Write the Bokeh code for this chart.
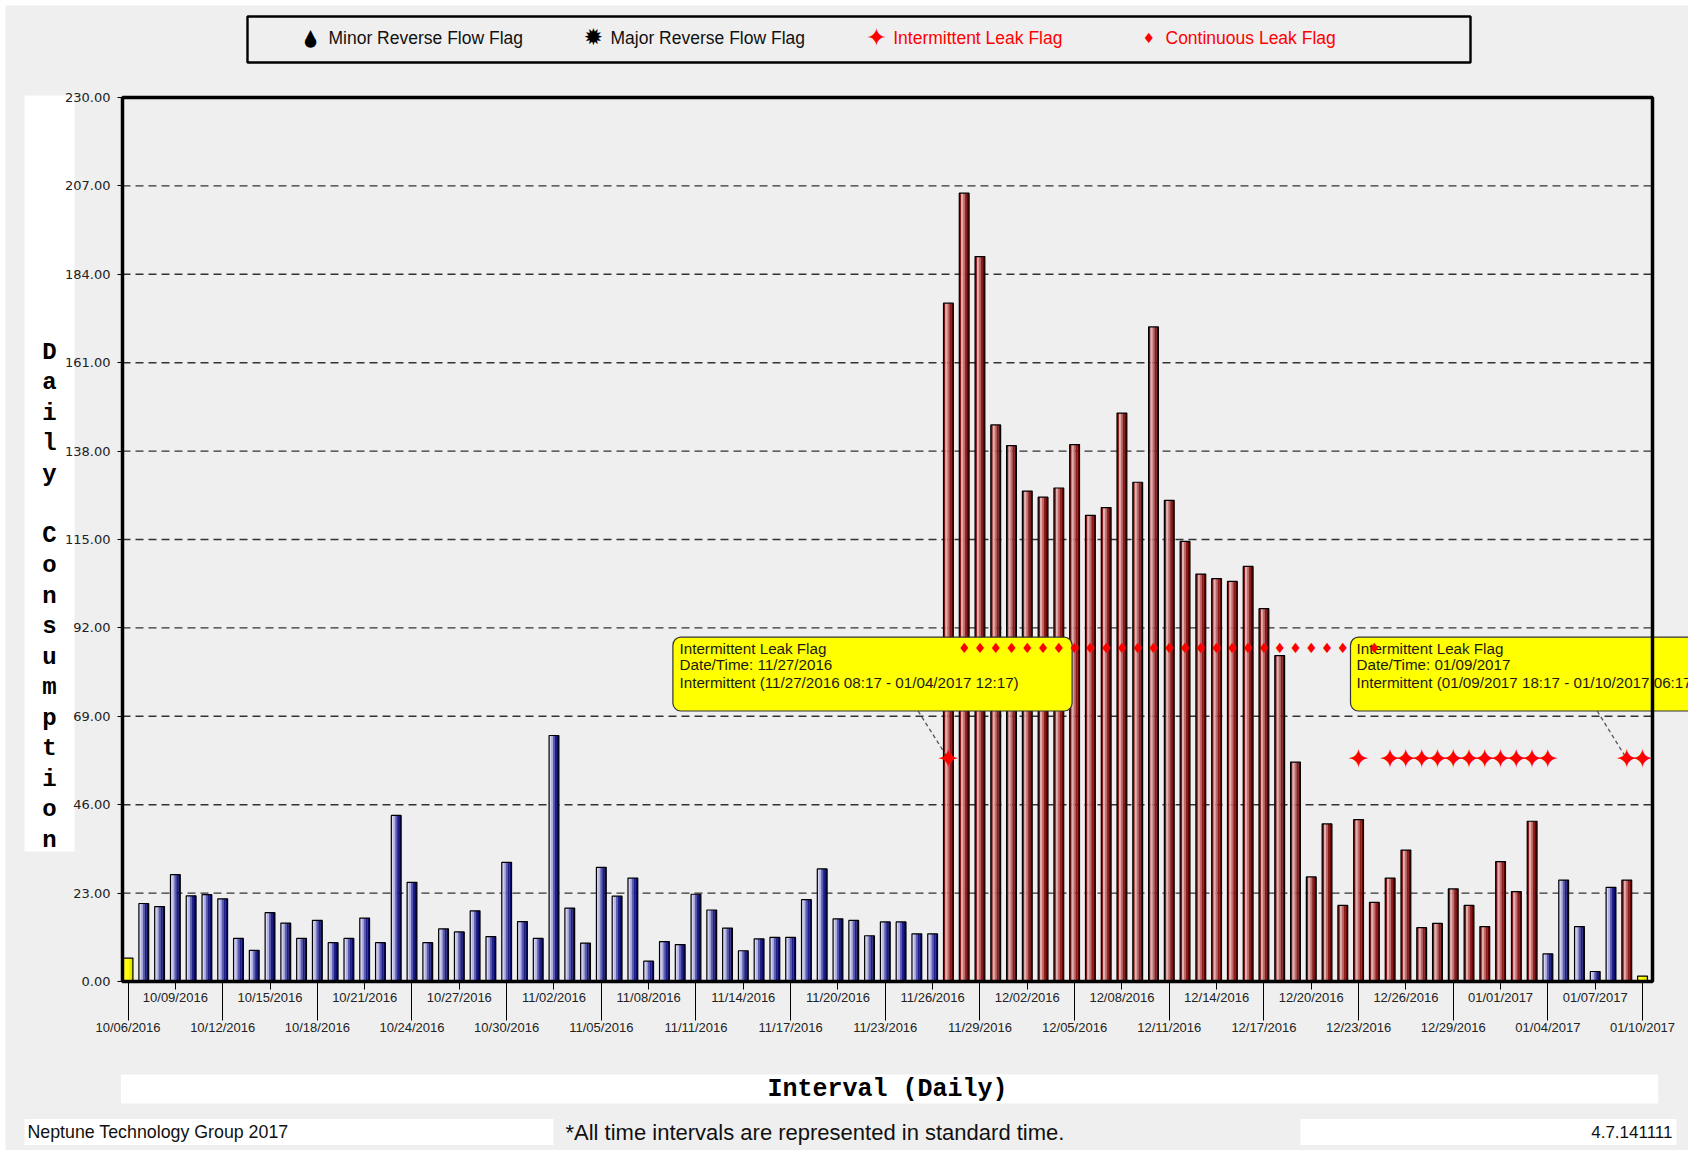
from bokeh.plotting import figure
from bokeh.models import ColumnDataSource, Range1d, FixedTicker, NumeralTickFormatter
from bokeh.core.properties import value
from bokeh.embed import file_html
from bokeh.resources import INLINE

# ---------------- data ----------------
tick_labels = ["10/06/2016", "10/09/2016", "10/12/2016", "10/15/2016", "10/18/2016", "10/21/2016",
               "10/24/2016", "10/27/2016", "10/30/2016", "11/02/2016", "11/05/2016", "11/08/2016",
               "11/11/2016", "11/14/2016", "11/17/2016", "11/20/2016", "11/23/2016", "11/26/2016",
               "11/29/2016", "12/02/2016", "12/05/2016", "12/08/2016", "12/11/2016", "12/14/2016",
               "12/17/2016", "12/20/2016", "12/23/2016", "12/26/2016", "12/29/2016", "01/01/2017",
               "01/04/2017", "01/07/2017", "01/10/2017"]

# daily consumption, 10/06/2016 .. 01/10/2017 (one value per day)
values = [6.1, 20.3, 19.5, 27.8, 22.3, 22.6, 21.5, 11.2, 8.1, 17.9,
          15.2, 11.2, 15.9, 10.1, 11.2, 16.5, 10.1, 43.2, 25.8, 10.1,
          13.7, 12.9, 18.4, 11.7, 31.0, 15.6, 11.2, 64.0, 19.1, 10.0,
          29.7, 22.2, 26.9, 5.3, 10.4, 9.6, 22.7, 18.6, 13.9, 8.0,
          11.1, 11.5, 11.5, 21.3, 29.3, 16.3, 15.9, 11.9, 15.5, 15.5,
          12.4, 12.4, 176.5, 205.1, 188.6, 144.8, 139.4, 127.6, 126.0, 128.4,
          139.7, 121.3, 123.3, 147.9, 129.9, 170.3, 125.2, 114.5, 106.0, 104.8,
          104.1, 108.0, 97.0, 84.8, 57.1, 27.2, 41.0, 19.8, 42.1, 20.6,
          26.9, 34.2, 14.0, 15.1, 24.1, 19.8, 14.3, 31.2, 23.4, 41.7,
          7.2, 26.4, 14.3, 2.6, 24.5, 26.4, 1.4]

# bar category per day: Y = partial day, B = normal, R = leak
status = (["Y"] + ["B"] * 51 + ["R"] * 38 + ["B"] * 5 + ["R"] + ["Y"])

intermittent_days = [52, 78, 80, 81, 82, 83, 84, 85, 86, 87, 88, 89, 90, 95, 96]
intermittent_level = 57.9
continuous_days = [53, 54, 55, 56, 57, 58, 59, 60, 61, 62, 63, 64, 65, 66, 67, 68, 69,
                   70, 71, 72, 73, 74, 75, 76, 77, 79]
continuous_level = 86.7

y_ticks = [0, 23, 46, 69, 92, 115, 138, 161, 184, 207, 230]

callout1 = ["Intermittent Leak Flag", "Date/Time: 11/27/2016",
            "Intermittent (11/27/2016 08:17 - 01/04/2017 12:17)"]
callout2 = ["Intermittent Leak Flag", "Date/Time: 01/09/2017",
            "Intermittent (01/09/2017 18:17 - 01/10/2017 06:17)"]

legend_labels = ["Minor Reverse Flow Flag", "Major Reverse Flow Flag",
                 "Intermittent Leak Flag", "Continuous Leak Flag"]

# ---------------- layout geometry (page pixels) ----------------
ORG = 5
W_FIG, H_FIG = 1683, 1145
PL, PR, PT, PB = 122, 1652, 97, 981      # plot area on the page
X0, X1 = -0.35, 96.63
Y0, Y1 = 0, 230
SX = (X1 - X0) / (PR - PL)
SY = (Y1 - Y0) / (PB - PT)


def dx(px):
    return X0 + (px - PL) * SX


def dy(py):
    return Y0 + (PB - py) * SY


BG = "#EFEFEF"
p = figure(width=W_FIG, height=H_FIG, output_backend="svg", toolbar_location=None,
           x_range=Range1d(dx(ORG), dx(ORG + W_FIG)),
           y_range=Range1d(dy(ORG + H_FIG), dy(ORG)),
           min_border=0, margin=(ORG, 0, 0, ORG),
           background_fill_color=BG, border_fill_color=BG)
p.outline_line_color = None
p.grid.visible = False


def txt(t, px, py, size, font="Liberation Sans", color="#111111", align="left",
        baseline="middle", style="normal", lh=1.2, level="glyph"):
    p.text(x=[dx(px)], y=[dy(py)], text=[t], text_font=value(font), text_font_size=size,
           text_color=color, text_align=align, text_baseline=baseline,
           text_font_style=style, text_line_height=lh, level=level)


def box(l, r, t, b, fill, line=None, lw=1.0, radius=0):
    kw = dict(left=[dx(l)], right=[dx(r)], top=[dy(t)], bottom=[dy(b)],
              fill_color=fill, line_color=line, line_width=lw)
    if radius:
        try:
            return p.quad(border_radius=radius, **kw)
        except Exception:
            pass
    return p.quad(**kw)


# ---------------- outer decorations ----------------
box(24, 74, 95, 851, "white")                       # y-title background
box(120.4, 1657.6, 1074, 1103, "white")             # x-title background
box(24, 553, 1118.5, 1144.5, "white")               # footer boxes
box(1300, 1676, 1118.5, 1144.5, "white")
box(247, 1470, 16, 62, None, line="black", lw=2.4)  # legend frame

# grid lines
p.segment(x0=[X0] * len(y_ticks), x1=[X1] * len(y_ticks), y0=y_ticks, y1=y_ticks,
          line_color="#333333", line_width=1.4, line_dash="8 5")

# ---------------- bars with shaded strips ----------------
palettes = {
    "B": ["#D8D8F4", "#B4B4E4", "#5C5CB2", "#1E1E88", "#0A0A68"],
    "R": ["#861818", "#E2AEAE", "#BE6A6A", "#8A1C1C", "#6A0000"],
    "Y": ["#FFFF30", "#FFFF10", "#FFFF00", "#F0F000", "#E0E000"],
}
BW = 0.62
NS = 5
days = list(range(len(values)))
for k in range(NS):
    off = -BW / 2 + BW / NS * (k + 0.5)
    src = ColumnDataSource(dict(x=[d + off for d in days], top=values,
                                c=[palettes[s][k] for s in status]))
    p.vbar(x="x", top="top", bottom=0, width=BW / NS * 1.08, fill_color="c",
           line_color=None, source=src)
p.vbar(x=days, top=values, bottom=0, width=BW, fill_color=None,
       line_color="black", line_width=1.2)

# leader lines and intermittent flags
p.line(x=[dx(917.6), intermittent_days[0]], y=[dy(710.5), intermittent_level],
       line_color="#555555", line_width=1.3, line_dash="4 3")
p.line(x=[dx(1596.7), intermittent_days[-2]], y=[dy(710.5), intermittent_level],
       line_color="#555555", line_width=1.3, line_dash="4 3")
p.text(x=intermittent_days, y=[intermittent_level] * len(intermittent_days),
       text=["\u2726"] * len(intermittent_days), text_font=value("DejaVu Sans"),
       text_font_size="27px", text_color="#FF0000", text_align="center",
       text_baseline="middle")

# ---------------- callouts ----------------
box(672.4, 1071.6, 636.7, 710.5, "#FFFF00", line="#333333", lw=1.2, radius=8)
box(1350, 1760, 636.7, 710.5, "#FFFF00", line="#333333", lw=1.2, radius=8)
for lines, x0 in [(callout1, 679), (callout2, 1356)]:
    for t, yy in zip(lines, [647.6, 664.2, 682.0]):
        txt(t, x0, yy, "15.2px", color="#1A1A1A")

# continuous flags (on top of callouts)
p.text(x=continuous_days, y=[continuous_level] * len(continuous_days),
       text=["\u2666"] * len(continuous_days), text_font=value("DejaVu Sans"),
       text_font_size="14px", text_color="#FF0000", text_align="center",
       text_baseline="middle")

# plot-area border
p.quad(left=[X0], right=[X1], bottom=[Y0], top=[Y1], fill_color=None,
       line_color="black", line_width=3.5)

# ---------------- legend ----------------
txt("\u25B2", 310, 32.5, "11px", font="DejaVu Sans", color="black", align="center")
txt("\u25CF", 310, 40, "15px", font="DejaVu Sans", color="black", align="center")
txt(legend_labels[0], 328, 37.5, "17.5px")
txt("\u2739", 593, 36.5, "23px", font="DejaVu Sans", color="black", align="center")
txt(legend_labels[1], 610, 37.5, "17.5px")
txt("\u2726", 876, 37, "25px", font="DejaVu Sans", color="#FF0000", align="center")
txt(legend_labels[2], 892.7, 37.5, "17.5px", color="#FF0000")
txt("\u2666", 1148.3, 37, "14px", font="DejaVu Sans", color="#FF0000", align="center")
txt(legend_labels[3], 1165, 37.5, "17.5px", color="#FF0000")

# ---------------- titles & footer ----------------
txt("\n".join(list("Daily Consumption")), 49, 338, "24px", font="Liberation Mono",
    color="black", align="center", baseline="top", style="bold", lh=1.13)
txt("Interval (Daily)", 887, 1088.5, "25px", font="Liberation Mono", color="black",
    align="center", style="bold")
txt("Neptune Technology Group 2017", 27, 1131.5, "17.8px")
txt("*All time intervals are represented in standard time.", 565, 1131.5, "22px")
txt("4.7.141111", 1672, 1131.5, "17px", align="right")

# ---------------- axes (fixed inside the canvas) ----------------
p.yaxis.fixed_location = X0
p.yaxis.bounds = (Y0, Y1)
p.yaxis.ticker = FixedTicker(ticks=y_ticks)
p.yaxis.formatter = NumeralTickFormatter(format="0.00")
p.yaxis.axis_line_color = None
p.yaxis.major_tick_out = 5
p.yaxis.major_tick_in = 0
p.yaxis.minor_tick_line_color = None
p.yaxis.major_tick_line_color = "black"
p.yaxis.major_label_standoff = 7
p.yaxis.major_label_text_font = "DejaVu Sans"
p.yaxis.major_label_text_font_size = "13px"
p.yaxis.major_label_text_color = "#222222"

xt = [3 * i for i in range(len(tick_labels))]
p.xaxis.fixed_location = Y0
p.xaxis.bounds = (X0, X1)
p.xaxis.ticker = FixedTicker(ticks=xt, minor_ticks=xt[::2])
p.xaxis.major_label_overrides = {t: (lbl + "\n") if i % 2 else ("\n" + lbl)
                                 for i, (t, lbl) in enumerate(zip(xt, tick_labels))}
p.xaxis.axis_line_color = None
p.xaxis.major_tick_out = 8
p.xaxis.major_tick_in = 0
p.xaxis.minor_tick_out = 39
p.xaxis.minor_tick_in = 0
p.xaxis.major_tick_line_color = "black"
p.xaxis.minor_tick_line_color = "black"
p.xaxis.major_label_standoff = -31
p.xaxis.major_label_text_font = "Liberation Sans"
p.xaxis.major_label_text_font_size = "13px"
p.xaxis.major_label_text_color = "#222222"
p.xaxis.major_label_text_line_height = 2.0

open("out.html", "w").write(file_html(p, INLINE))
